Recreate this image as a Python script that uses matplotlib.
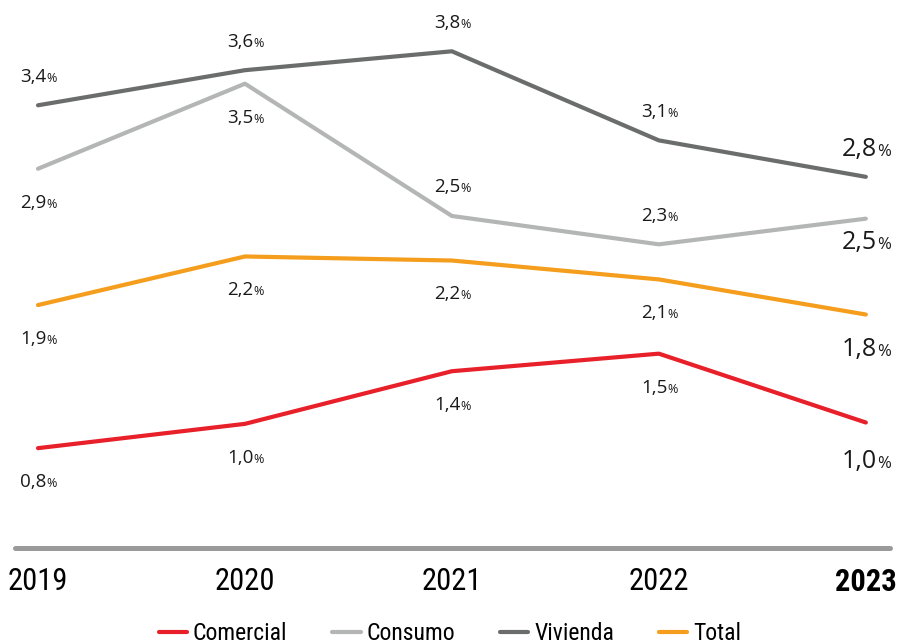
import matplotlib
matplotlib.use("Agg")
import matplotlib.pyplot as plt

# datos (morosidad por cartera, %)
years = [2019, 2020, 2021, 2022, 2023]
vivienda = [3.36, 3.62, 3.76, 3.10, 2.83]
consumo = [2.89, 3.52, 2.54, 2.33, 2.52]
total = [1.88, 2.24, 2.21, 2.07, 1.81]
comercial = [0.82, 1.00, 1.39, 1.52, 1.01]

# +1 etiqueta arriba, -1 etiqueta abajo
pos_vivienda = [1, 1, 1, 1, 1]
pos_consumo = [-1, -1, 1, 1, -1]
pos_total = [-1, -1, -1, -1, -1]
pos_comercial = [-1, -1, -1, -1, -1]

# desplazamiento vertical (pt) de la etiqueta del ultimo año
last_dy = {"Vivienda": 15, "Consumo": -22, "Total": -30, "Comercial": -33}

series = [
    ("Comercial", comercial, pos_comercial, "#e8202a"),
    ("Consumo", consumo, pos_consumo, "#b4b6b5"),
    ("Vivienda", vivienda, pos_vivienda, "#6b6d6c"),
    ("Total", total, pos_total, "#f59d1c"),
]

label_font = ["Open Sans", "DejaVu Sans"]
narrow = ["Roboto Condensed", "DejaVu Sans"]

fig = plt.figure(figsize=(9, 6.44), dpi=100)
ax = fig.add_axes([0.0167, 0.149, 0.972, 0.851])

for name, vals, pos, col in series:
    ax.plot(years, vals, color=col, lw=3.0, solid_capstyle="round",
            solid_joinstyle="round", label=name)
    for i, (x, v) in enumerate(zip(years, vals)):
        last = i == len(years) - 1
        fs_num = 18 if last else 13.5
        fs_pct = 12 if last else 9
        dx = 8 if last else 6
        if last:
            dy = last_dy[name]
        elif pos[i] > 0:
            dy = 17
        else:
            dy = -28
        txt = f"{v:.1f}".replace(".", ",")
        ax.annotate(txt, (x, v), xytext=(dx, dy), textcoords="offset points",
                    ha="right", va="baseline", fontsize=fs_num,
                    family=label_font, color="#1a1a1a")
        ax.annotate("%", (x, v), xytext=(dx, dy), textcoords="offset points",
                    ha="left", va="baseline", fontsize=fs_pct,
                    family=label_font, color="#1a1a1a")

ax.set_xlim(2018.889, 2023.116)
ax.set_ylim(0.08, 4.14)

for s in ["top", "right", "left"]:
    ax.spines[s].set_visible(False)
ax.spines["bottom"].set_color("#9a9a9a")
ax.spines["bottom"].set_linewidth(3.6)
ax.spines["bottom"].set_capstyle("round")

ax.set_yticks([])
ax.set_xticks(years)
ax.set_xticklabels([str(y) for y in years], family=narrow, fontsize=22)
ax.get_xticklabels()[-1].set_fontweight("bold")
ax.tick_params(axis="x", length=0, pad=14)

fig.legend(loc="center", bbox_to_anchor=(0.5, 0.016), ncol=4,
           frameon=False, handlelength=1.2, handletextpad=0.25,
           columnspacing=1.9, prop={"family": narrow, "size": 17})

fig.savefig("out.png", dpi=100)
